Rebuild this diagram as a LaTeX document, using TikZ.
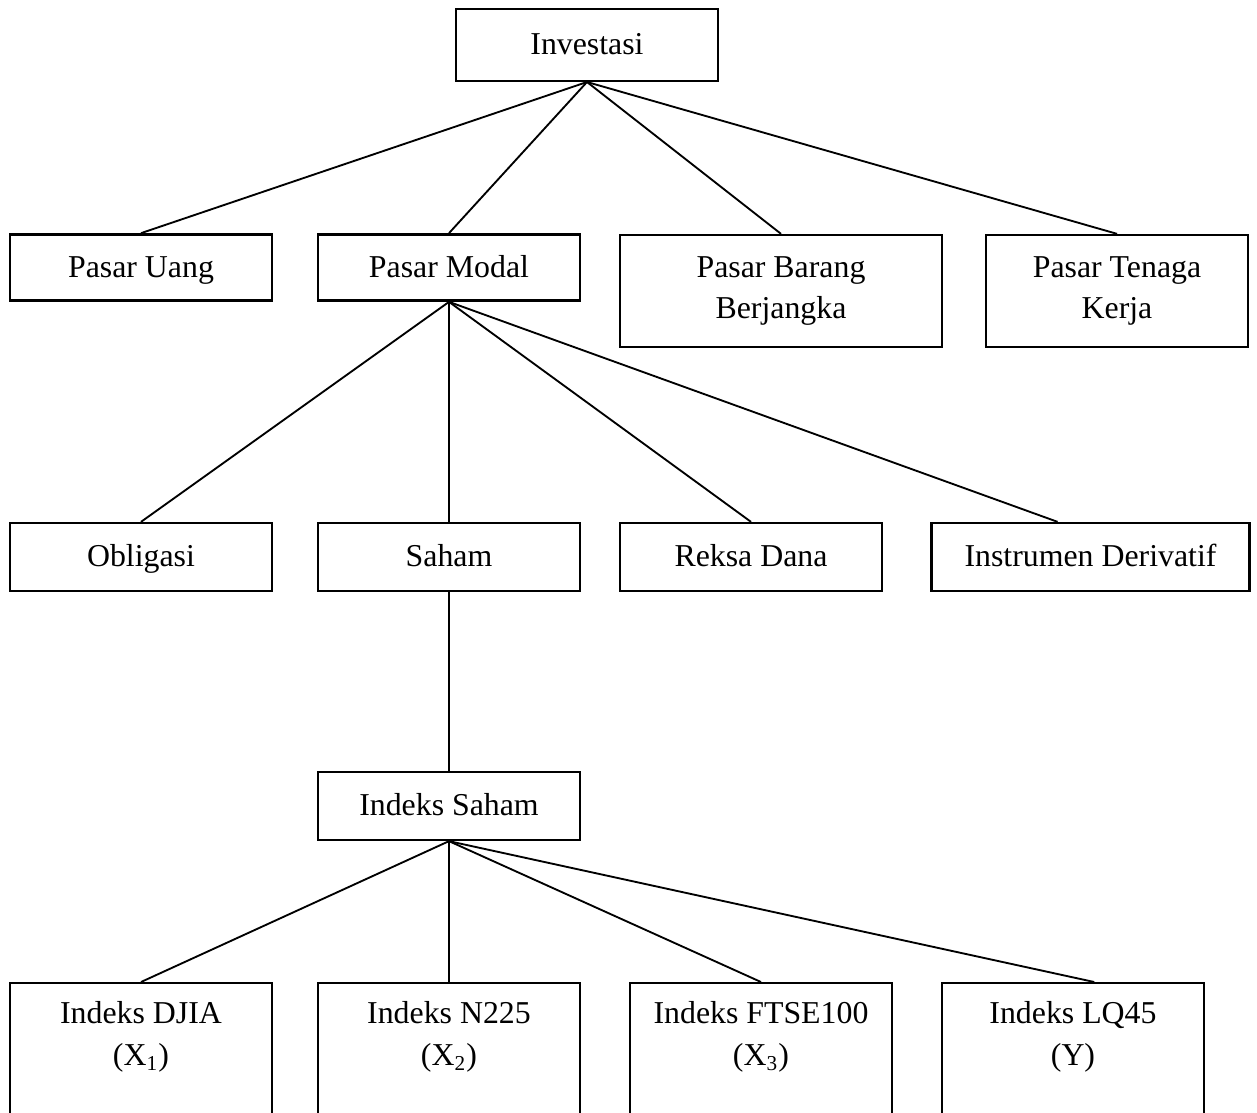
\documentclass[tikz,border=0pt]{standalone}
\usepackage{fontspec}
\setmainfont{Liberation Serif}

\begin{document}
\begin{tikzpicture}[x=0.377pt, y=-0.377pt,
    box/.style={draw, line width=0.9pt, minimum width=98.8pt, minimum height=25pt, align=center, font=\fontsize{12}{15.8}\selectfont},
    one/.style={box, text height=9.2pt, text depth=2pt},
    leaf/.style={box, anchor=north, inner ysep=6.8pt, text depth=60pt},
    link/.style={line width=0.7pt}]
    \useasboundingbox (0,0) rectangle (1257,1112);
    % top
    \node [one, minimum height=27pt] (inv) at (587,45) {Investasi};
    % pasar
    \node [one] (uang) at (141,267.5) {Pasar Uang};
    \node [one] (modal) at (449,267.5) {Pasar Modal};
    \node [box, minimum width=121.4pt, minimum height=42.2pt] (barang) at (781,291) {Pasar Barang\\Berjangka};
    \node [box, minimum height=42.2pt] (tenaga) at (1117,291) {Pasar Tenaga\\Kerja};
    % instrumen
    \node [one, minimum height=25.6pt] (oblig) at (141,557) {Obligasi};
    \node [one, minimum height=25.6pt] (saham) at (449,557) {Saham};
    \node [one, minimum height=25.6pt] (reksa) at (751,557) {Reksa Dana};
    \node [one, minimum height=25.6pt, minimum width=119.9pt] (deriv) at (1090.5,557) {Instrumen Derivatif};
    \node [one, minimum height=25.6pt] (indeks) at (449,806) {Indeks Saham};
    % indeks
    \node [leaf] (djia) at (141,982) {Indeks DJIA\\(X\textsubscript{1})};
    \node [leaf] (nikkei) at (449,982) {Indeks N225\\(X\textsubscript{2})};
    \node [leaf] (ftse) at (761,982) {Indeks FTSE100\\(X\textsubscript{3})};
    \node [leaf] (lq) at (1073,982) {Indeks LQ45\\(Y)};

    \draw [link] (inv.south) -- (uang.north);
    \draw [link] (inv.south) -- (modal.north);
    \draw [link] (inv.south) -- (barang.north);
    \draw [link] (inv.south) -- (tenaga.north);
    \draw [link] (modal.south) -- (oblig.north);
    \draw [link] (modal.south) -- (saham.north);
    \draw [link] (modal.south) -- (reksa.north);
    \draw [link] (modal.south) -- ([xshift=-12.4pt]deriv.north);
    \draw [link] (saham.south) -- (indeks.north);
    \draw [link] (indeks.south) -- (djia.north);
    \draw [link] (indeks.south) -- (nikkei.north);
    \draw [link] (indeks.south) -- (ftse.north);
    \draw [link] (indeks.south) -- ([xshift=8pt]lq.north);
\end{tikzpicture}
\end{document}
